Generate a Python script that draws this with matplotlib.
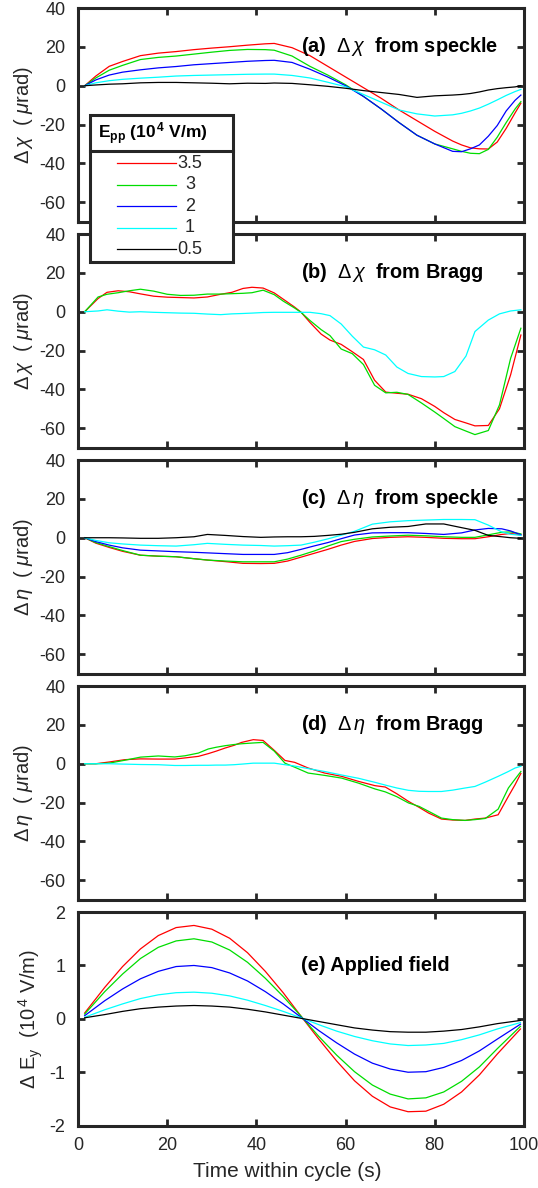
import matplotlib
matplotlib.use("Agg")
import matplotlib.pyplot as plt
from matplotlib.lines import Line2D
from matplotlib.patches import Rectangle

plt.rcParams['font.family'] = ['Liberation Sans', 'DejaVu Sans']
plt.rcParams['mathtext.fontset'] = 'custom'
plt.rcParams['mathtext.rm'] = 'Liberation Sans'
plt.rcParams['mathtext.it'] = 'Liberation Sans:italic'
plt.rcParams['mathtext.bf'] = 'Liberation Sans:bold'
plt.rcParams['axes.unicode_minus'] = False

# field amplitudes (E_pp, 10^4 V/m)
epp_labels = ['3.5', '3', '2', '1', '0.5']
colors = ['#ff0000', '#00dd00', '#0000ff', '#00ffff', '#000000']

# (a) delta chi from speckle
t_a = [1.5, 4, 7, 10, 14, 18, 22, 26, 30, 34, 38, 42, 44, 48, 52, 56, 60, 64, 68, 72,
       76, 80, 84, 86, 88, 90, 92, 94, 96, 98, 99.3]
chi_sp_35 = [0, 5, 10, 12.5, 15.5, 16.8, 17.6, 18.6, 19.4, 20.1, 20.9, 21.6, 21.8, 19.6, 15.5, 10,
             4.5, -1, -6.5, -12.5, -18, -23.5, -28.5, -30.5, -32, -32.5, -32.6, -29, -22, -14, -9]
chi_sp_3 = [0, 4, 8, 10.5, 13.5, 14.6, 15.3, 16.3, 17.3, 18.2, 18.7, 18.6, 18.3, 15.3, 10, 5.5,
            0.5, -5.5, -12, -19, -25.5, -30, -32.5, -33.8, -34.8, -35, -32.8, -26.5, -19, -12, -8.2]
chi_sp_2 = [0, 3, 5.5, 7, 8.2, 9.2, 9.9, 10.8, 11.4, 12, 12.6, 13, 13.1, 12, 8.5, 4.5,
            0, -5.5, -12, -19, -25.5, -30, -33.8, -34, -32.5, -30.5, -26, -20.5, -13, -7.5, -4.8]
chi_sp_1 = [0, 1.5, 2.6, 3.3, 3.9, 4.4, 5, 5.3, 5.5, 5.7, 5.9, 6, 6, 5.3, 4, 1.8,
            -0.5, -4.5, -8.5, -12.5, -14.5, -15.6, -15, -14.2, -13, -11.5, -9.5, -7.3, -5, -3, -1.9]
chi_sp_05 = [0, 0.4, 0.8, 1.0, 1.5, 1.7, 1.7, 1.5, 1.3, 1.0, 1.3, 1.2, 1.4, 1.2, 0.5, -0.3,
             -1.3, -2.5, -3.5, -4.5, -6, -5.2, -4.8, -4.5, -4, -3.2, -2.2, -1.5, -1, -0.6, 0]

# (b) delta chi from Bragg
t_b = [1.5, 4.5, 6.5, 9, 11.5, 14, 17, 20, 23, 26, 29, 32, 34.5, 37, 39, 41.5, 44, 46, 48.5, 50,
       52, 54.5, 56.5, 59, 61.5, 64, 66.5, 69, 71.5, 74, 77, 80, 82, 84.5, 87, 89, 92, 94.5, 97, 99.3]
chi_br_35 = [0, 6.8, 10, 10.8, 10.3, 9.2, 8, 7.5, 7.3, 7.1, 7.6, 9, 10, 12, 12.6, 12.2, 9.7, 6.5, 2.5, -0.2,
             -5.5, -11.5, -14.6, -16.8, -20.6, -24.6, -35.3, -41.4, -42, -42.5, -44.8, -48.8, -52, -55.5,
             -57.3, -58.8, -58.6, -50, -32.5, -12]
chi_br_3 = [0, 7.6, 9, 9.8, 10.8, 11.6, 10.6, 9, 8.4, 8.5, 9.1, 9.1, 9.3, 9.5, 9.8, 11.1, 8.8, 5.5, 2, -0.3,
            -4.5, -9.2, -12.3, -19.2, -21.6, -27.2, -37.9, -41.8, -41.5, -42.6, -47, -51.7, -55, -59.2,
            -61.5, -63.3, -61.2, -48, -24, -8.5]
chi_br_1 = [0, 0.4, 1, 0.3, -0.2, 0, -0.3, -0.5, -0.7, -0.8, -1.2, -1.5, -1.1, -0.9, -0.7, -0.4, -0.3, -0.3,
            -0.3, -0.3, -0.3, -1, -2, -6.3, -12.6, -18.2, -19.6, -22.3, -28.5, -31.8, -33.4, -33.6, -33.4,
            -30.8, -22.8, -10.2, -4.3, -1.1, 0.4, 1]

# (c) delta eta from speckle
t_c = [1.5, 4, 7, 10, 14, 18, 22, 26, 29, 33, 37, 41, 44, 47, 50, 53, 56, 59, 62, 66,
       70, 74, 78, 82, 86, 89, 92, 95, 97, 99.3]
eta_sp_35 = [0, -2.8, -5, -7, -9, -9.5, -9.8, -10.8, -11.5, -12.3, -13.2, -13.3, -13.2, -12, -10, -8,
             -6, -3.8, -1.9, -0.4, 0.2, 0.5, 0.2, -0.3, -0.5, -0.5, 0.5, 1.7, 2.2, 1.5]
eta_sp_3 = [0, -2.5, -4.6, -6.6, -9, -9.5, -9.8, -10.8, -11.5, -12, -12.4, -12.4, -12.4, -11, -9, -6.8,
            -4.3, -2, -0.8, 0.4, 0.9, 1.3, 1, 0.5, 0.2, 0.2, 1.5, 2.8, 3, 2]
eta_sp_2 = [0, -2, -3.8, -5.2, -6.4, -6.8, -7.2, -7.5, -7.8, -8.2, -8.6, -8.6, -8.6, -7.7, -6, -4.2,
            -2.5, -0.5, 1.4, 2.5, 2.6, 2.6, 2.2, 1.7, 2.5, 4, 4.8, 4.6, 3.5, 1.5]
eta_sp_1 = [0, -1.4, -2.6, -3.2, -3.8, -4.1, -4.3, -3.6, -2.9, -3.4, -3.8, -4, -4.3, -4.1, -3.8, -2.3,
            -0.6, 1.3, 3.3, 7, 8.2, 8.8, 9.1, 9.4, 9.4, 9.3, 6.5, 3, 1.8, 1.2]
eta_sp_05 = [0, 0, 0, -0.1, -0.3, -0.3, 0, 0.5, 1.7, 1.2, 0.6, 0.2, 0.4, 0.5, 0.5, 0.7,
             1.2, 1.8, 2.8, 4.6, 5.4, 5.8, 7.1, 7.1, 5.2, 3.8, 1.2, 0.5, 0, -0.3]

# (d) delta eta from Bragg
t_d = [1.5, 4, 7, 10.5, 14, 18, 21.7, 24, 27, 29.2, 31, 33, 35, 36.7, 39.3, 41.5, 44, 46.4, 48.6,
       51.6, 55.3, 59.1, 62.9, 66.6, 68.9, 71.5, 74.1, 76.5, 78.6, 81.5, 84, 86.8, 89, 91.3, 94.2,
       96.5, 98, 99.3]
eta_br_35 = [0, 0, 0.9, 2.1, 2.5, 2.4, 2.4, 3, 3.8, 5.2, 6.5, 8.1, 9.5, 11, 12.4, 12, 6.9, 1.7, 0.7,
             -2.2, -4.8, -6.5, -9.1, -11.3, -12, -15.5, -19.4, -22.5, -25.4, -28.5, -29, -29.2, -28.5,
             -28, -26.3, -16.8, -10.8, -5]
eta_br_3 = [0, 0, 0.3, 1.8, 3.4, 4, 3.5, 4.1, 5.5, 7.6, 8.5, 9.3, 9.9, 10.3, 10.7, 11, 6.5, 0.3, -1.8,
            -4.8, -6, -7.4, -10, -13, -14.5, -17, -20.2, -22, -24.5, -28, -28.8, -29.2, -28.8, -28.2,
            -23.4, -12.5, -7.9, -4]
eta_br_1 = [0, 0, 0, -0.2, -0.4, -0.5, -0.9, -0.9, -0.8, -0.8, -0.7, -0.7, -0.5, -0.2, 0.3, 0.3, 0.3,
            -0.5, -1.2, -2.5, -4, -5.8, -7.5, -9.6, -11, -12.5, -13.7, -14.2, -14.3, -14.3, -13.6,
            -12.5, -11.7, -9.5, -6.5, -4, -2.2, -1.3]

# (e) applied field
t_e = [1.5, 6, 10, 14, 18, 22, 26, 30, 34, 38, 42, 46, 50, 54, 58, 62, 66, 70, 74, 78,
       82, 86, 90, 94, 99.2]
ey_35 = [0.11, 0.59, 0.98, 1.31, 1.56, 1.71, 1.75, 1.68, 1.51, 1.24, 0.89, 0.49, 0.05, -0.38, -0.79,
         -1.16, -1.45, -1.65, -1.74, -1.73, -1.60, -1.37, -1.05, -0.66, -0.19]
ey_3 = [0.09, 0.51, 0.84, 1.13, 1.34, 1.46, 1.50, 1.44, 1.29, 1.06, 0.76, 0.42, 0.05, -0.33, -0.68,
        -0.99, -1.24, -1.41, -1.50, -1.48, -1.37, -1.17, -0.90, -0.56, -0.14]
ey_2 = [0.06, 0.34, 0.56, 0.75, 0.89, 0.98, 1.00, 0.96, 0.86, 0.71, 0.51, 0.28, 0.03, -0.22, -0.45,
        -0.66, -0.83, -0.94, -1.00, -0.99, -0.91, -0.78, -0.60, -0.38, -0.10]
ey_1 = [0.03, 0.17, 0.28, 0.38, 0.45, 0.49, 0.50, 0.48, 0.43, 0.35, 0.25, 0.14, 0.02, -0.11, -0.23,
        -0.33, -0.41, -0.47, -0.50, -0.49, -0.46, -0.39, -0.30, -0.19, -0.07]
ey_05 = [0.02, 0.08, 0.14, 0.19, 0.22, 0.24, 0.25, 0.24, 0.22, 0.18, 0.13, 0.07, 0.01, -0.05, -0.11,
         -0.17, -0.21, -0.24, -0.25, -0.25, -0.23, -0.20, -0.15, -0.09, -0.03]

panels = [
    (t_a, [chi_sp_35, chi_sp_3, chi_sp_2, chi_sp_1, chi_sp_05], [0, 1, 2, 3, 4],
     r'$\Delta\,\chi$  ( $\mu$rad)', r'(a)  $\Delta\,\chi$  from speckle'),
    (t_b, [chi_br_35, chi_br_3, chi_br_1], [0, 1, 3],
     r'$\Delta\,\chi$  ( $\mu$rad)', r'(b)  $\Delta\,\chi$  from Bragg'),
    (t_c, [eta_sp_35, eta_sp_3, eta_sp_2, eta_sp_1, eta_sp_05], [0, 1, 2, 3, 4],
     r'$\Delta\,\eta$  ( $\mu$rad)', r'(c)  $\Delta\,\eta$  from speckle'),
    (t_d, [eta_br_35, eta_br_3, eta_br_1], [0, 1, 3],
     r'$\Delta\,\eta$  ( $\mu$rad)', r'(d)  $\Delta\,\eta$  from Bragg'),
    (t_e, [ey_35, ey_3, ey_2, ey_1, ey_05], [0, 1, 2, 3, 4],
     r'$\Delta$ E$_{\rm y}$  (10$^{\,4}$ V/m)', '(e) Applied field'),
]

W, H = 538, 1188
fig = plt.figure(figsize=(W / 100, H / 100), dpi=100)
frame_col = '#262626'
left, width = 78 / W, (524 - 78) / W
ph = 213.5

for i, (t, series, cidx, ylab, note) in enumerate(panels):
    top = 8.1 + 226 * i
    ax = fig.add_axes([left, 1 - (top + ph) / H, width, ph / H])
    for y, c in zip(series, cidx):
        ax.plot(t, y, color=colors[c], lw=0.9)
    ax.set_xlim(0, 100)
    ax.set_xticks([0, 20, 40, 60, 80, 100])
    if i < 4:
        ax.set_ylim(-70, 40)
        ax.set_yticks([-60, -40, -20, 0, 20, 40])
        ax.text(50, 20, note, fontsize=14.3, fontweight='bold', va='center', ha='left')
        ax.tick_params(labelbottom=False)
    else:
        ax.set_ylim(-2, 2)
        ax.set_yticks([-2, -1, 0, 1, 2])
        ax.text(50, 1, note, fontsize=14.3, fontweight='bold', va='center', ha='left')
        ax.set_xlabel('Time within cycle (s)', fontsize=15, color=frame_col)
        ax.xaxis.set_label_coords(0.47, -0.17)
    ax.set_ylabel(ylab, fontsize=14.5, color=frame_col, labelpad=3)
    ax.tick_params(direction='in', top=True, right=True, length=5, width=2,
                   color=frame_col, labelcolor=frame_col, labelsize=13)
    ax.tick_params(axis='y', pad=9)
    ax.tick_params(axis='x', pad=8)
    for s in ax.spines.values():
        s.set_linewidth(2.2)
        s.set_color(frame_col)


def fx(x):
    return x / W


def fy(y):
    return 1 - y / H


# legend box (MATLAB style, with title row)
fig.add_artist(Rectangle((fx(90), fy(262)), fx(233) - fx(90), fy(115) - fy(262),
                         transform=fig.transFigure, facecolor='white',
                         edgecolor=frame_col, lw=2.2, zorder=5))
fig.add_artist(Line2D([fx(90), fx(233)], [fy(151), fy(151)], transform=fig.transFigure,
                      color=frame_col, lw=2.2, zorder=6))
fig.text(fx(98), fy(134), r'$\mathbf{E_{pp}}$ (10$^{\,\mathbf{4}}$ V/m)', fontsize=12.5,
         fontweight='bold', va='center', ha='left', zorder=7)
for k, (lab, c) in enumerate(zip(epp_labels, colors)):
    yk = 163.3 + 21.5 * k
    fig.add_artist(Line2D([fx(117), fx(176)], [fy(yk), fy(yk)], transform=fig.transFigure,
                          color=c, lw=0.9, zorder=7))
    fig.text(fx(190), fy(yk), lab, fontsize=13, color=frame_col, ha='center', va='center', zorder=7)

fig.savefig('out.png', dpi=100)
